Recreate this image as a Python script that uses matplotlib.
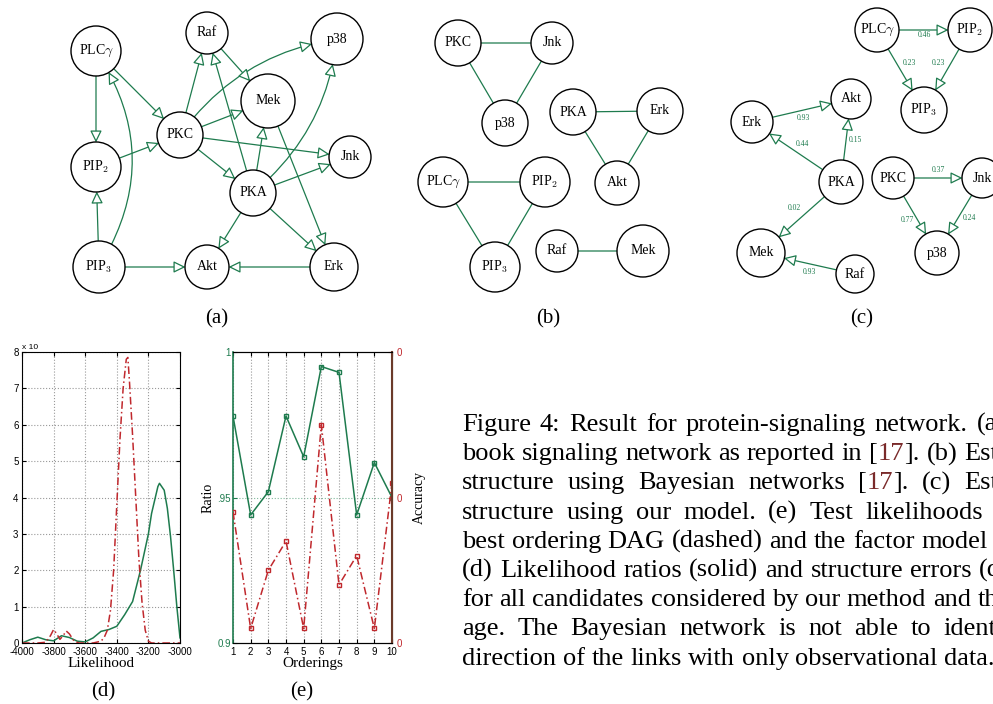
import matplotlib
matplotlib.use("Agg")
import matplotlib.pyplot as plt
from matplotlib.patches import Circle, FancyArrowPatch

plt.rcParams["font.family"] = ["Liberation Serif", "DejaVu Serif"]
plt.rcParams["mathtext.fontset"] = "cm"

GREEN = "#1e7b4e"
RED = "#c0282d"
CITE = "#7a2a2a"

# ---- data -------------------------------------------------------------
labels = {"PLCg": r"PLC$\gamma$", "PIP2": r"PIP$_2$", "PIP3": r"PIP$_3$",
          "PKC": "PKC", "PKA": "PKA", "Raf": "Raf", "Mek": "Mek",
          "Erk": "Erk", "Akt": "Akt", "Jnk": "Jnk", "p38": "p38"}

# (a) textbook signaling network
edges_a = [("PLCg", "PIP2"), ("PIP3", "PIP2"), ("PIP3", "PLCg"), ("PLCg", "PKC"),
           ("PIP2", "PKC"), ("PKC", "Raf"), ("PKC", "p38"), ("PKC", "Mek"),
           ("PKC", "Jnk"), ("PKC", "PKA"), ("Raf", "Mek"), ("PKA", "Raf"),
           ("PKA", "Mek"), ("PKA", "p38"), ("PKA", "Jnk"), ("PKA", "Akt"),
           ("PKA", "Erk"), ("Mek", "Erk"), ("PIP3", "Akt"), ("Erk", "Akt")]
# (b) bayesian network estimate (undirected)
edges_b = [("PKC", "Jnk"), ("PKC", "p38"), ("Jnk", "p38"), ("PKA", "Erk"),
           ("PKA", "Akt"), ("Erk", "Akt"), ("PLCg", "PIP2"), ("PLCg", "PIP3"),
           ("PIP2", "PIP3"), ("Raf", "Mek")]
# (c) our model, with edge weights
edges_c = [("PLCg", "PIP2"), ("PLCg", "PIP3"), ("PIP2", "PIP3"), ("Erk", "Akt"),
           ("PKA", "Erk"), ("PKA", "Akt"), ("PKA", "Mek"), ("Raf", "Mek"),
           ("PKC", "Jnk"), ("PKC", "p38"), ("Jnk", "p38")]
weights_c = [0.46, 0.23, 0.23, 0.93, 0.44, 0.15, 0.02, 0.93, 0.37, 0.77, 0.24]

# (d) test likelihood densities
lik_factor_x = [-4000, -3950, -3900, -3850, -3800, -3750, -3700, -3650, -3600,
                -3550, -3500, -3450, -3400, -3350, -3300, -3250, -3200, -3180,
                -3160, -3140, -3130, -3100, -3080, -3060, -3040, -3020, -3000]
lik_factor_y = [0.0, 0.09, 0.16, 0.09, 0.06, 0.2, 0.15, 0.05, 0.03,
                0.14, 0.32, 0.37, 0.46, 0.78, 1.14, 2.0, 3.0, 3.56,
                3.93, 4.3, 4.39, 4.2, 3.7, 2.93, 2.0, 1.0, 0.14]
lik_dag_x = [-4000, -3900, -3850, -3820, -3800, -3780, -3760, -3740, -3720,
             -3700, -3670, -3640, -3550, -3500, -3480, -3460, -3440, -3420,
             -3400, -3380, -3360, -3340, -3330, -3320, -3300, -3280, -3260,
             -3240, -3220, -3200, -3180, -3000]
lik_dag_y = [0.0, 0.0, 0.02, 0.2, 0.37, 0.25, 0.1, 0.2, 0.33,
             0.25, 0.05, 0.0, 0.0, 0.05, 0.15, 0.35, 0.9, 2.0,
             3.8, 5.6, 7.0, 7.8, 7.85, 7.2, 5.7, 4.0, 2.3,
             1.1, 0.35, 0.05, 0.0, 0.0]
lik_ticks = [-4000, -3800, -3600, -3400, -3200, -3000]

# (e) orderings
orderings = [1, 2, 3, 4, 5, 6, 7, 8, 9, 10]
ratio = [0.978, 0.944, 0.952, 0.978, 0.964, 0.995, 0.993, 0.944, 0.962, 0.950]
accuracy = [0.45, 0.05, 0.25, 0.35, 0.05, 0.75, 0.20, 0.30, 0.05, 0.55]

caption = [
    "Figure 4: Result for protein-signaling network. (a) Text-",
    "book signaling network as reported in [17]. (b) Estimated",
    "structure using Bayesian networks [17]. (c) Estimated",
    "structure using our model. (e) Test likelihoods for the",
    "best ordering DAG (dashed) and the factor model (solid).",
    "(d) Likelihood ratios (solid) and structure errors (dashed)",
    "for all candidates considered by our method and the aver-",
    "age. The Bayesian network is not able to identify the",
    "direction of the links with only observational data.",
]

# ---- layout (pixel positions: x, y, radius) -----------------------------
layout_a = {"PLCg": (96, 51, 25), "PIP2": (96, 167, 25), "PIP3": (99, 267, 26),
            "Raf": (207, 33, 21), "PKC": (180, 135, 23), "Mek": (268, 101, 27),
            "p38": (337, 39, 26), "Jnk": (350, 157, 21), "PKA": (253, 193, 23),
            "Akt": (207, 267, 22), "Erk": (334, 267, 24)}
curves_a = {("PIP3", "PLCg"): 0.32, ("PKC", "p38"): -0.21, ("PKA", "p38"): 0.2}
layout_b = {"PKC": (458, 43, 23), "Jnk": (552, 43, 21), "p38": (505, 123, 23),
            "PKA": (573, 112, 23), "Erk": (660, 111, 23), "Akt": (617, 183, 22),
            "PLCg": (443, 182, 25), "PIP2": (545, 182, 25), "PIP3": (495, 267, 25),
            "Raf": (557, 251, 21), "Mek": (643, 251, 26)}
layout_c = {"PLCg": (877, 30, 22), "PIP2": (970, 30, 22), "PIP3": (924, 110, 23),
            "Akt": (851, 99, 20), "Erk": (752, 122, 21), "PKA": (841, 182, 22),
            "PKC": (893, 178, 21), "Jnk": (982, 178, 20), "p38": (937, 253, 22),
            "Mek": (761, 253, 24), "Raf": (855, 274, 19)}
label_off_c = [(1, 5), (9, -7), (-9, -7), (2, 7), (6, -8), (9, 0),
               (-7, -10), (1, 9), (1, -8), (-8, 5), (10, 3)]

fig = plt.figure(figsize=(9.93, 7.04), dpi=100)
ax0 = fig.add_axes([0, 0, 1, 1])
ax0.set_xlim(0, 993)
ax0.set_ylim(704, 0)
ax0.axis("off")


def draw_network(layout, edges, directed=True, curves=None, fs=10):
    circles = {}
    for name, (x, y, r) in layout.items():
        c = Circle((x, y), r, facecolor="white", edgecolor="black", lw=1.0, zorder=3)
        ax0.add_patch(c)
        circles[name] = c
        ax0.text(x, y, labels[name], ha="center", va="center", fontsize=fs,
                 zorder=4, clip_on=True)
    for a, b in edges:
        rad = (curves or {}).get((a, b), 0.0)
        style = "-|>,head_length=0.45,head_width=0.22" if directed else "-"
        arr = FancyArrowPatch(layout[a][:2], layout[b][:2], patchA=circles[a],
                              patchB=circles[b], shrinkA=0, shrinkB=0,
                              arrowstyle=style, mutation_scale=16,
                              connectionstyle=f"arc3,rad={rad}", lw=0.9,
                              edgecolor=GREEN, facecolor="white", zorder=2)
        ax0.add_patch(arr)


draw_network(layout_a, edges_a, curves=curves_a)
draw_network(layout_b, edges_b, directed=False)
draw_network(layout_c, edges_c)
for (a, b), w, (dx, dy) in zip(edges_c, weights_c, label_off_c):
    mx = (layout_c[a][0] + layout_c[b][0]) / 2 + dx
    my = (layout_c[a][1] + layout_c[b][1]) / 2 + dy
    ax0.text(mx, my, f"{w:.2f}", color=GREEN, fontsize=5.5, ha="center", va="center")

for txt, x, y in [("(a)", 217, 319), ("(b)", 548, 319), ("(c)", 862, 319),
                  ("(d)", 103, 692), ("(e)", 302, 692)]:
    ax0.text(x, y, txt, ha="center", va="center", fontsize=15)

# ---- (d) likelihood densities ------------------------------------------
W, H = 993.0, 704.0
axd = fig.add_axes([22 / W, 1 - 643 / H, 158 / W, 291 / H])
axd.plot(lik_factor_x, lik_factor_y, color=GREEN, lw=1.1)
axd.plot(lik_dag_x, lik_dag_y, color=RED, lw=1.1, ls=(0, (5, 2, 1, 2)))
axd.set_xlim(-4000, -3000)
axd.set_ylim(0, 8)
axd.set_xticks(lik_ticks)
axd.set_xticklabels([str(v) for v in lik_ticks])
axd.set_yticks(range(9))
axd.grid(True, ls=":", color="#999999", lw=0.8)
axd.tick_params(direction="in", length=3, labelsize=7, top=True, right=True)
axd.tick_params(axis="x", pad=3)
axd.tick_params(axis="y", pad=2.5)
for lab in axd.get_xticklabels() + axd.get_yticklabels():
    lab.set_family("Liberation Sans")
axd.set_xlabel("Likelihood", fontsize=11, labelpad=0)
axd.text(0.0, 1.005, "x 10", transform=axd.transAxes, fontsize=6,
         family="Liberation Sans", va="bottom")

# ---- (e) orderings ------------------------------------------------------
axe = fig.add_axes([233 / W, 1 - 643 / H, 159 / W, 291 / H])
axe.plot(orderings, ratio, color=GREEN, lw=1.1, marker="s", ms=3.5,
         mfc="none", mec=GREEN)
axe.set_xlim(1, 10)
axe.set_ylim(0.9, 1.0)
axe.set_xticks(orderings)
axe.set_yticks([0.9, 0.95, 1.0])
axe.set_yticklabels(["0.9", ".95", "1"])
axe.xaxis.grid(True, ls=":", color="#999999", lw=0.8)
axe.axhline(0.95, ls=":", color="#7fb89a", lw=0.8, zorder=0)
axe.tick_params(direction="in", length=3, labelsize=7, pad=1.5, top=True)
axe.tick_params(axis="x", pad=3)
axe.tick_params(axis="y", colors=GREEN, labelcolor=GREEN)
for lab in axe.get_xticklabels() + axe.get_yticklabels():
    lab.set_family("Liberation Sans")
axe.spines["left"].set_color(GREEN)
axe.spines["left"].set_linewidth(1.2)
axe.set_xlabel("Orderings", fontsize=11, labelpad=0)
axe.set_ylabel("Ratio", fontsize=10, labelpad=2)

axr = axe.twinx()
axr.plot(orderings, accuracy, color=RED, lw=1.1, ls=(0, (5, 2, 1, 2)),
         marker="s", ms=3.5, mfc="none", mec=RED)
axr.set_ylim(0, 1)
axr.set_yticks([0, 0.5, 1])
axr.set_yticklabels(["0", "0", "0"])
axr.tick_params(direction="in", length=3, labelsize=7, pad=3, colors=RED, labelcolor=RED)
for lab in axr.get_yticklabels():
    lab.set_family("Liberation Sans")
axr.spines["right"].set_color("#6b3a2a")
axr.spines["right"].set_linewidth(1.5)
axr.spines["left"].set_visible(False)
axr.set_ylabel("Accuracy", fontsize=10, labelpad=8)

# ---- caption (justified, cut at the page edge) ---------------------------
fig.canvas.draw()
rend = fig.canvas.get_renderer()


def text_width(s, fs):
    t = ax0.text(0, 0, s, fontsize=fs)
    w = t.get_window_extent(rend).width
    t.remove()
    return w


def segments(word):
    if "17" in word:
        pre, post = word.split("17", 1)
        return [(pre, "black"), ("17", CITE), (post, "black")]
    return [(word, "black")]


fs_cap = 17 * 533 / text_width(caption[-1], 17)
space = text_width("a a", fs_cap) - text_width("aa", fs_cap)
line_words = [line.split(" ") for line in caption]
word_w = [[text_width(w, fs_cap) for w in words] for words in line_words]
natural = [sum(ws) + space * (len(ws) - 1) for ws in word_w]
col_w = max(natural[:-1])

x0, base0, lead = 462, 431, 29.2
for i, (words, ws) in enumerate(zip(line_words, word_w)):
    gap = space if i == len(caption) - 1 else (col_w - sum(ws)) / (len(ws) - 1)
    x = x0
    y = base0 + i * lead
    for word, w in zip(words, ws):
        xs = x
        for seg, col in segments(word):
            if seg:
                ax0.text(xs, y, seg, fontsize=fs_cap, color=col, va="baseline",
                         ha="left", clip_on=True)
                xs += text_width(seg, fs_cap)
        x += w + gap

fig.savefig("out.png", dpi=100)
